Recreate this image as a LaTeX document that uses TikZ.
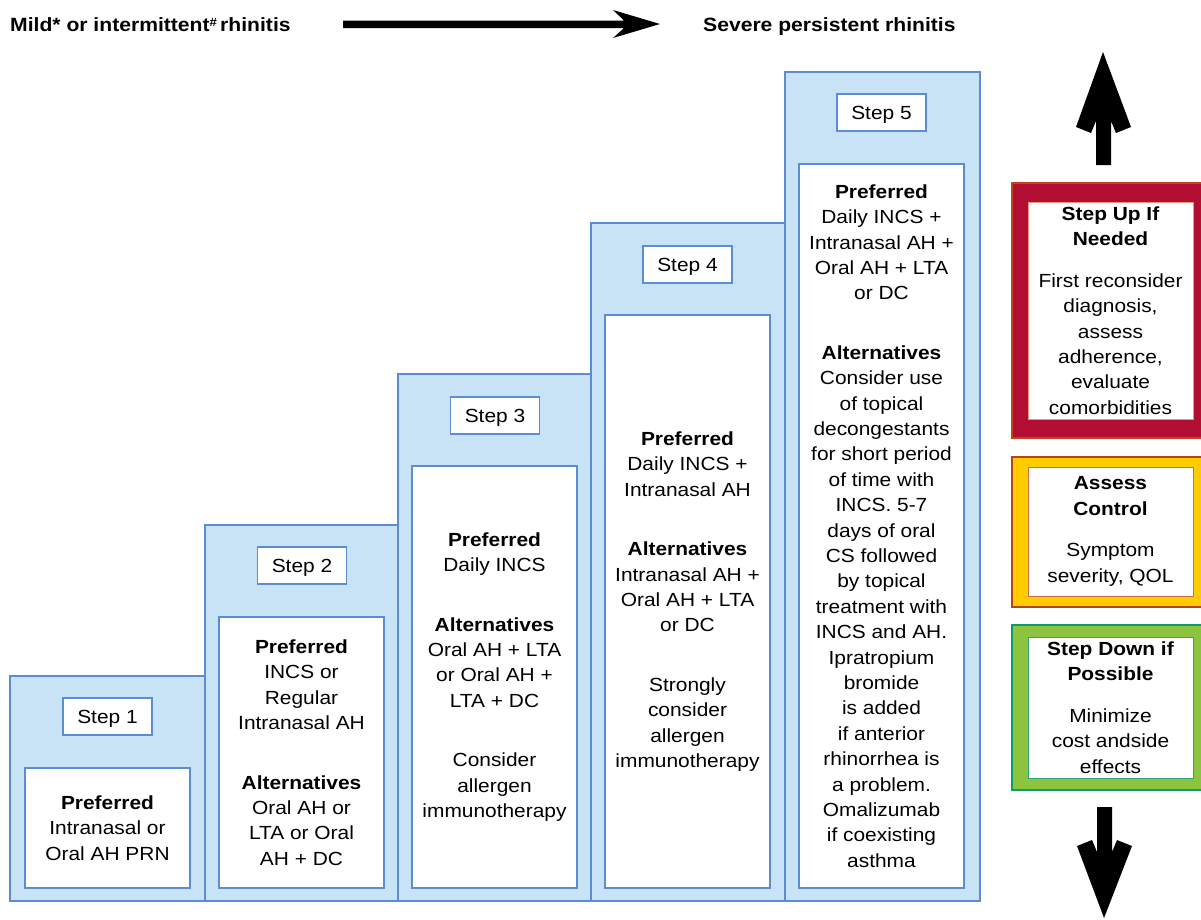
\documentclass[tikz,border=0pt]{standalone}
\usepackage{fontspec}
\setmainfont{Liberation Sans}[FakeStretch=1.1]
\definecolor{lblue}{HTML}{C7E3F5}
\definecolor{bblue}{HTML}{5B8DD2}
\definecolor{cred}{HTML}{B20E33}
\definecolor{credb}{HTML}{C2441C}
\definecolor{credi}{HTML}{E89A7A}
\definecolor{cyel}{HTML}{FFCC00}
\definecolor{cyelb}{HTML}{B8431B}
\definecolor{cyeli}{HTML}{D0704A}
\definecolor{cgrn}{HTML}{8CC43F}
\definecolor{cgrnb}{HTML}{0E9A6A}
\definecolor{cgrni}{HTML}{2DA57A}
\newcommand\bodyfs{\fontsize{19}{25.4}\selectfont}
\tikzset{
  box/.style={rectangle, inner sep=0pt, outer sep=0pt},
  outerbox/.style={box, fill=lblue, draw=bblue, line width=2.4pt},
  innerbox/.style={box, fill=white, draw=bblue, line width=1.2pt, align=center, font=\bodyfs, text=black},
  labelbox/.style={box, fill=white, draw=bblue, line width=1.5pt, minimum width=89pt, minimum height=37pt, font=\bodyfs, text height=13.7pt, text depth=0pt},
  sidebox/.style={box, line width=1.3pt, minimum width=197pt},
  sideinner/.style={box, fill=white, line width=1pt, minimum width=165pt, align=center, font=\bodyfs},
  title/.style={font=\fontsize{19.2}{24}\selectfont\bfseries, inner sep=0pt, anchor=base west},
  bigarrow/.style={fill=black, draw=none}
}
\begin{document}
\begin{tikzpicture}[x=1pt,y=-1pt]
\useasboundingbox (0,0) rectangle (1201,919);
\fill[white] (0,0) rectangle (1201,919);

% titles and top arrow
\node[title] (mild) at (10,31) {Mild* or intermittent\raisebox{5pt}{\fontsize{12}{12}\selectfont\#}\,rhinitis};
\node[title] (severe) at (703,31) {Severe persistent rhinitis};
\fill[bigarrow] (343,20.5) -- (624,20.5) -- (613,10) -- (660,24) -- (613,38) -- (624,28) -- (343,28) -- cycle;

% Step 1
\node[outerbox, minimum width=195pt, minimum height=225pt] (o1) at (107.5,788.5) {};
\node[labelbox] (l1) at (107.5,716.5) {Step 1};
\node[innerbox, minimum width=165pt, minimum height=120pt] (i1) at (107.5,828)
  {\textbf{Preferred}\\Intranasal or\\Oral AH PRN};

% Step 2
\node[outerbox, minimum width=193pt, minimum height=376pt] (o2) at (301.5,713) {};
\node[labelbox] (l2) at (302,565.5) {Step 2};
\node[innerbox, minimum width=165pt, minimum height=271pt] (i2) at (301.5,752.5)
  {\textbf{Preferred}\\INCS or\\Regular\\Intranasal AH\\[34pt]\textbf{Alternatives}\\Oral AH or\\LTA or Oral\\AH + DC};

% Step 3
\node[outerbox, minimum width=193pt, minimum height=527pt] (o3) at (494.5,637.5) {};
\node[labelbox] (l3) at (495,415.5) {Step 3};
\node[innerbox, minimum width=165pt, minimum height=422pt] (i3) at (494.5,677)
  {\textbf{Preferred}\\Daily INCS\\[34pt]\textbf{Alternatives}\\Oral AH + LTA\\or Oral AH +\\LTA + DC\\[34pt]Consider\\allergen\\immunotherapy};

% Step 4
\node[outerbox, minimum width=194pt, minimum height=678pt] (o4) at (688,562) {};
\node[labelbox] (l4) at (687.5,264.5) {Step 4};
\node[innerbox, minimum width=165pt, minimum height=573pt] (i4) at (687.5,601.5)
  {\textbf{Preferred}\\Daily INCS +\\Intranasal AH\\[34pt]\textbf{Alternatives}\\Intranasal AH +\\Oral AH + LTA\\or DC\\[34pt]Strongly\\consider\\allergen\\immunotherapy};

% Step 5
\node[outerbox, minimum width=195pt, minimum height=829pt] (o5) at (882.5,486.5) {};
\node[labelbox] (l5) at (881.5,112.5) {Step 5};
\node[innerbox, minimum width=165pt, minimum height=724pt] (i5) at (881.5,526)
  {\textbf{Preferred}\\Daily INCS +\\Intranasal AH +\\Oral AH + LTA\\or DC\\[34pt]\textbf{Alternatives}\\Consider use\\of topical\\decongestants\\for short period\\of time with\\INCS. 5-7\\days of oral\\CS followed\\by topical\\treatment with\\INCS and AH.\\Ipratropium\\bromide\\is added\\if anterior\\rhinorrhea is\\a problem.\\Omalizumab\\if coexisting\\asthma};

% side boxes
\node[sidebox, fill=cred, draw=credb, minimum height=255pt] (up) at (1110.5,310.5) {};
\node[sideinner, draw=credi, minimum height=217pt] (upt) at (1110.5,310.5)
  {\textbf{Step Up If}\\\textbf{Needed}\\[16pt]First reconsider\\diagnosis,\\assess\\adherence,\\evaluate\\comorbidities};

\node[sidebox, fill=cyel, draw=cyelb, minimum height=150pt] (ac) at (1110.5,532) {};
\node[sideinner, draw=cyeli, minimum height=129pt] (act) at (1110.5,531.5)
  {\textbf{Assess}\\\textbf{Control}\\[16pt]Symptom\\severity, QOL};

\node[sidebox, fill=cgrn, draw=cgrnb, minimum height=165pt] (dn) at (1110.5,707.5) {};
\node[sideinner, draw=cgrni, minimum height=141pt] (dnt) at (1110.5,707.5)
  {\textbf{Step Down if}\\\textbf{Possible}\\[16pt]Minimize\\cost andside\\effects};

% vertical arrows
\fill[bigarrow] (1096,165) -- (1111,165) -- (1111,121) -- (1116,133) -- (1131,127) -- (1103,52) -- (1076,127) -- (1091,133) -- (1096,121) -- cycle;
\fill[bigarrow] (1097,807) -- (1112,807) -- (1112,852) -- (1117,840) -- (1132,846) -- (1104,918) -- (1077,846) -- (1092,840) -- (1097,852) -- cycle;
\end{tikzpicture}
\end{document}
